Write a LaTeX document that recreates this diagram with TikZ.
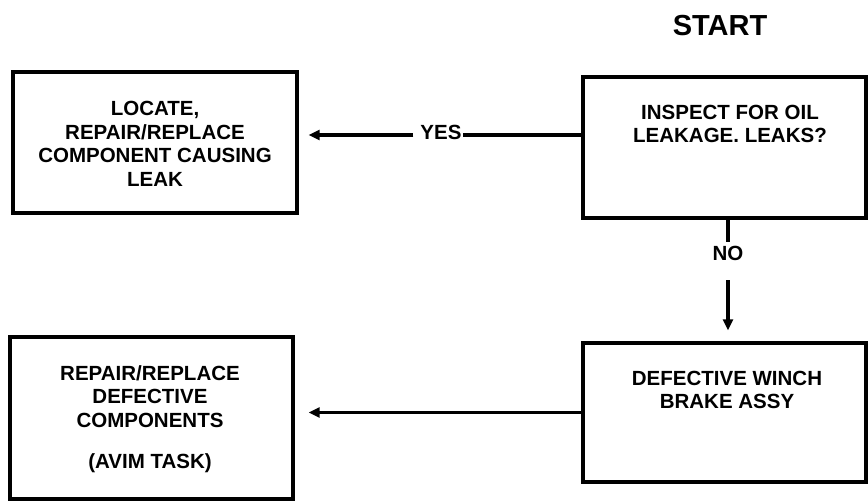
\documentclass[tikz,border=0pt]{standalone}
\usepackage{fontspec}
\setmainfont{Liberation Sans}
\usetikzlibrary{arrows.meta}
\begin{document}
\begin{tikzpicture}[x=1pt,y=-1pt,
  boxst/.style={draw,line width=3.4pt,inner sep=0pt},
  txt/.style={align=center,inner sep=0pt,font=\bfseries\fontsize{20.5}{23.5}\selectfont},
  lbl/.style={inner sep=0pt,font=\bfseries\fontsize{20.5}{23.5}\selectfont},
  conn/.style={line width=3.2pt},
  arr/.style={line width=3.2pt,-{Triangle[length=11pt,width=10pt]}}]
\useasboundingbox (0,0) rectangle (868,501);
\node[inner sep=0pt,font=\bfseries\fontsize{29}{32}\selectfont] (start) at (720,26) {START};
% boxes
\node[boxst,minimum width=284pt,minimum height=141pt] (b1) at (155,142.5) {};
\node[boxst,minimum width=283pt,minimum height=141pt] (b2) at (724.5,147.5) {};
\node[boxst,minimum width=283pt,minimum height=162pt] (b3) at (151.5,418) {};
\node[boxst,minimum width=283pt,minimum height=139pt] (b4) at (724.5,412.5) {};
% texts
\node[txt] (t1) at (155,144) {LOCATE,\\REPAIR/REPLACE\\COMPONENT CAUSING\\LEAK};
\node[txt] (t2) at (730,124) {INSPECT FOR OIL\\LEAKAGE. LEAKS?};
\node[txt] (t3) at (150,419) {REPAIR/REPLACE\\DEFECTIVE\\COMPONENTS\\[18pt](AVIM TASK)};
\node[txt] (t4) at (727,390) {DEFECTIVE WINCH\\BRAKE ASSY};
% YES connector
\node[lbl] (yes) at (441,132) {YES};
\coordinate (yl) at (0,135);
\draw[conn] (b2.west |- yl) -- ([xshift=1pt]yes.east |- yl);
\draw[arr,shorten >=10pt] ([xshift=-7pt]yes.west |- yl) -- (b1.east |- yl);
% NO connector
\node[lbl] (no) at (728,253) {NO};
\draw[conn] (b2.south -| no) -- ++(0,22);
\draw[arr,shorten >=11pt] ([yshift=-20pt]no.south) -- (no |- b4.north);
% bottom connector
\draw[arr,shorten >=14pt] (b4.west) -- (b3.east |- b4.west);
\end{tikzpicture}
\end{document}
